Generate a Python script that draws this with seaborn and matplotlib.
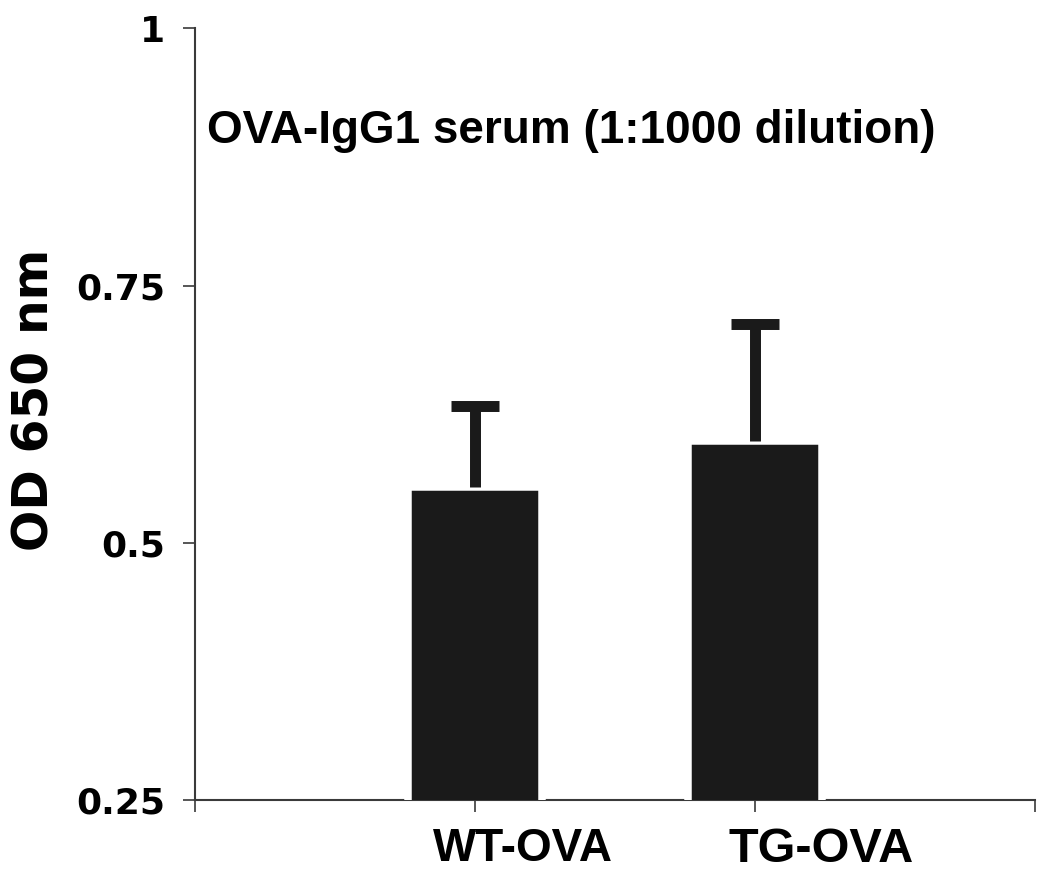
import matplotlib
matplotlib.use("Agg")
import matplotlib.pyplot as plt
import matplotlib.transforms as mtransforms
import seaborn as sns
import pandas as pd

# values
groups = ["WT-OVA", "TG-OVA"]
means = [0.554, 0.599]
sem = [0.079, 0.114]
yticks = [0.25, 0.5, 0.75, 1]
ytick_labels = ["0.25", "0.5", "0.75", "1"]

bar_color = "#1a1a1a"
axis_color = "#3a3a3a"

sns.set_style("ticks")
plt.rcParams["font.family"] = ["DejaVu Sans"]
plt.rcParams["text.color"] = "black"
plt.rcParams["axes.labelcolor"] = "black"

data = pd.DataFrame({"group": groups, "od": means})

fig = plt.figure(figsize=(10.5, 8.84), dpi=100)
ax = fig.add_axes([0.1857, 0.095, 0.80, 0.873])

sns.barplot(data=data, x="group", y="od", color=bar_color, saturation=1,
            width=0.48, errorbar=None, edgecolor="white", linewidth=5.4,
            zorder=3, ax=ax)

# upper error bars only
eb = ax.errorbar(range(len(groups)), means, yerr=[[0] * len(sem), sem],
                 fmt="none", ecolor=bar_color, elinewidth=7.9, capsize=17.5,
                 capthick=7.9, zorder=4)
eb[1][0].set_visible(False)

ax.set_xlim(-1, 2)
ax.set_ylim(0.25, 1)
ax.set_yticks(yticks)
ax.set_yticklabels(ytick_labels, fontsize=26, fontweight="bold",
                   family="DejaVu Sans")
ax.set_xticks([-1, 0, 1, 2])
ax.set_xticklabels([""] + groups + [""], fontweight="bold",
                   family="Liberation Sans")
ax.set_xlabel("")
ax.set_ylabel("OD 650 nm", fontsize=35, fontweight="bold", family="DejaVu Sans")
ax.yaxis.set_label_coords(-0.162, 0.518)

ax.tick_params(axis="y", length=8.6, width=1.2, pad=13, color=axis_color,
               labelcolor="black")
ax.tick_params(axis="x", length=8.6, width=1.2, pad=11, color=axis_color,
               labelcolor="black")

# the category labels sit a bit right of the bars in the original
shifts = [0.48, 0.66]
sizes = [33, 35]
for lab, dx, fs in zip(ax.get_xticklabels()[1:3], shifts, sizes):
    lab.set_fontsize(fs)
    lab.set_transform(lab.get_transform() +
                      mtransforms.ScaledTranslation(dx, 0, fig.dpi_scale_trans))

sns.despine(ax=ax)
for side in ["left", "bottom"]:
    ax.spines[side].set_color(axis_color)
    ax.spines[side].set_linewidth(1.5)

ax.text(0.014, 0.852, "OVA-IgG1 serum (1:1000 dilution)", transform=ax.transAxes,
        fontsize=33, fontweight="bold", family="Liberation Sans",
        va="baseline", ha="left", color="black")

fig.savefig("out.png", dpi=100, facecolor="white")
